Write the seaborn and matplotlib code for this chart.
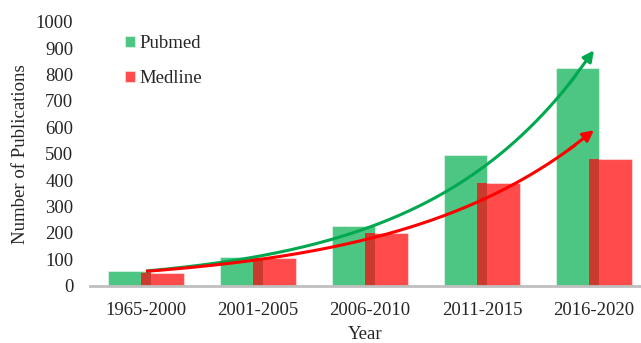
import numpy as np
import pandas as pd
import matplotlib
matplotlib.use("Agg")
import matplotlib.pyplot as plt
import seaborn as sns
from matplotlib.patches import Rectangle

periods = ["1965-2000", "2001-2005", "2006-2010", "2011-2015", "2016-2020"]
pubmed = [55, 108, 225, 495, 825]
medline = [47, 105, 200, 388, 480]
yticks = [0, 100, 200, 300, 400, 500, 600, 700, 800, 900, 1000]

df = pd.DataFrame({
    "Year": periods * 2,
    "Count": pubmed + medline,
    "Source": ["Pubmed"] * len(periods) + ["Medline"] * len(periods),
})

sns.set_theme(style="white")
plt.rcParams["font.family"] = ["Liberation Serif", "DejaVu Serif"]

W, H = 641, 343
fig = plt.figure(figsize=(W / 100, H / 100), dpi=100)
ax = fig.add_axes([90 / W, 1 - 285.7 / H, (W - 90) / W, (285.7 - 21.7) / H])

green = "#4DC684"
red = "#FF4B4B"
overlap = "#C93B2C"

sns.barplot(data=df, x="Year", y="Count", hue="Source", order=periods,
            hue_order=["Pubmed", "Medline"], palette=[green, red],
            width=0.59, dodge=True, ax=ax, saturation=1, legend=True,
            edgecolor=(1, 1, 1, 0.45), linewidth=0.8)

# widen bars so they overlap
bars = [p for p in ax.patches if isinstance(p, Rectangle) and p.get_height() > 0]
new_w = 0.388
for p in bars:
    c = p.get_x() + p.get_width() / 2
    p.set_x(c - new_w / 2)
    p.set_width(new_w)

n = len(periods)
gbars = sorted(bars[:n], key=lambda p: p.get_x())
rbars = sorted(bars[n:2 * n], key=lambda p: p.get_x())
for g, r in zip(gbars, rbars):
    x0 = r.get_x()
    x1 = g.get_x() + g.get_width()
    h = min(g.get_height(), r.get_height())
    ax.add_patch(Rectangle((x0, 0), x1 - x0, h, facecolor=overlap,
                           edgecolor="none", zorder=r.get_zorder() + 0.1))

# exponential trendlines
xs = np.arange(n)
xx = np.linspace(0, n - 1, 200)
for vals, col in [(pubmed, "#00A84F"), (medline, "#FF0000")]:
    b, a = np.polyfit(xs, np.log(vals), 1)
    yy = np.exp(a + b * xx)
    ax.plot(xx[:-8], yy[:-8], color=col, lw=2.2, zorder=5, solid_capstyle="butt")
    ax.annotate("", xy=(xx[-1], yy[-1]), xytext=(xx[-12], yy[-12]),
                arrowprops=dict(arrowstyle="-|>", color=col, lw=2.2,
                                mutation_scale=16, shrinkA=0, shrinkB=0),
                zorder=6)

ax.set_xlim(-0.5, 4.42)
ax.set_ylim(0, 1000)
ax.set_yticks(yticks)
ax.set_yticklabels([str(t) for t in yticks])
ax.tick_params(axis="both", length=0, labelsize=13.5, colors="#262626")
ax.tick_params(axis="y", pad=12)
ax.tick_params(axis="x", pad=12)

for s in ["top", "right", "left"]:
    ax.spines[s].set_visible(False)
ax.spines["bottom"].set_color("#BFBFBF")
ax.spines["bottom"].set_linewidth(2)

ax.set_xlabel("Year", fontsize=13.5, color="#262626", labelpad=5)
ax.set_ylabel("Number of Publications", fontsize=13.5, color="#262626", labelpad=5)

leg = ax.legend(loc="upper left", bbox_to_anchor=(125 / W, 1 - 35 / H),
                bbox_transform=fig.transFigure, frameon=False, fontsize=13.5,
                borderpad=0, borderaxespad=0, labelspacing=0.97,
                handlelength=0.55, handleheight=0.5, handletextpad=0.2)
for t in leg.get_texts():
    t.set_color("#262626")

fig.savefig("out.png", dpi=100)
